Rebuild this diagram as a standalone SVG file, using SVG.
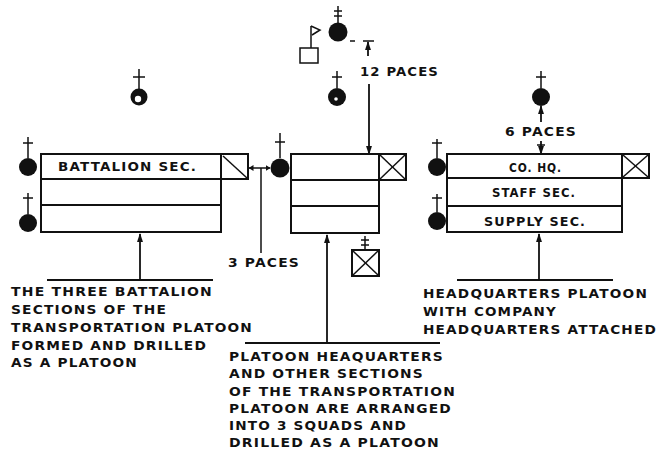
<svg xmlns="http://www.w3.org/2000/svg" width="660" height="456" viewBox="0 0 660 456">
<style>
.bx{fill:none;stroke:#111;stroke-width:2}
.ln{fill:none;stroke:#111;stroke-width:1.8}
.thin{fill:none;stroke:#111;stroke-width:1.5}
.man{fill:#111}
.t{font-family:"DejaVu Sans","Liberation Sans",sans-serif;font-weight:bold;font-size:11.5px;letter-spacing:1px;fill:#111}
</style>
<defs>
<marker id="ah" viewBox="0 0 10 10" refX="9" refY="5" markerWidth="5" markerHeight="6" markerUnits="userSpaceOnUse" orient="auto-start-reverse" preserveAspectRatio="none">
<path d="M0,0 L10,5 L0,10 Z" fill="#111"/>
</marker>
<marker id="ahl" viewBox="0 0 10 10" refX="9" refY="5" markerWidth="9" markerHeight="6" markerUnits="userSpaceOnUse" orient="auto-start-reverse" preserveAspectRatio="none">
<path d="M0,0 L10,5 L0,10 Z" fill="#111"/>
</marker>
</defs>
<rect width="660" height="456" fill="#fff"/>

<!-- left formation -->
<g id="left-platoon">
<rect class="bx" x="41" y="154" width="180" height="78"/>
<line class="bx" x1="41" y1="179" x2="248" y2="179"/>
<line class="bx" x1="41" y1="205" x2="221" y2="205"/>
<rect class="bx" x="221" y="154" width="27" height="25"/>
<line class="thin" x1="223" y1="156" x2="247" y2="178"/>
<text class="t" x="58" y="171" textLength="139" lengthAdjust="spacingAndGlyphs">BATTALION SEC.</text>
<circle class="man" cx="28" cy="167" r="9"/>
<line class="thin" x1="28" y1="137" x2="28" y2="158"/><line class="thin" x1="23" y1="143" x2="33" y2="143"/>
<circle class="man" cx="28" cy="223" r="9"/>
<line class="thin" x1="28" y1="193" x2="28" y2="214"/><line class="thin" x1="23" y1="198" x2="33" y2="198"/>
</g>
<g id="left-leader-figure">
<circle class="man" cx="139" cy="97" r="8.5"/>
<circle cx="138" cy="99" r="3.2" fill="#fff"/>
<line class="thin" x1="139" y1="69" x2="139" y2="89"/><line class="thin" x1="133" y1="77" x2="145" y2="77"/>
</g>

<!-- middle formation -->
<g id="middle-platoon">
<rect class="bx" x="291" y="154" width="88" height="79"/>
<line class="bx" x1="291" y1="180" x2="406" y2="180"/>
<line class="bx" x1="291" y1="206" x2="379" y2="206"/>
<rect class="bx" x="379" y="154" width="27" height="26"/>
<line class="thin" x1="380" y1="155" x2="405" y2="179"/><line class="thin" x1="405" y1="155" x2="380" y2="179"/>
<circle class="man" cx="280" cy="168" r="9.5"/>
<line class="thin" x1="280" y1="133" x2="280" y2="158"/><line class="thin" x1="275" y1="142" x2="285" y2="142"/>
</g>
<g id="middle-guidon">
<rect class="bx" x="352" y="250" width="27" height="26"/>
<line class="thin" x1="353" y1="251" x2="378" y2="275"/><line class="thin" x1="378" y1="251" x2="353" y2="275"/>
<line class="thin" x1="365" y1="236" x2="365" y2="250"/>
<line class="thin" x1="361" y1="240" x2="369" y2="240"/><line class="thin" x1="361" y1="245" x2="369" y2="245"/>
</g>
<g id="middle-leader-figure">
<circle class="man" cx="337" cy="97" r="9"/>
<circle cx="336" cy="99" r="1.8" fill="#fff"/>
<line class="thin" x1="337" y1="71" x2="337" y2="88"/><line class="thin" x1="332" y1="77" x2="342" y2="77"/>
</g>
<g id="commander">
<circle class="man" cx="338" cy="32" r="9.5"/>
<line class="thin" x1="338" y1="6" x2="338" y2="23"/>
<line class="thin" x1="334" y1="11" x2="342" y2="11"/><line class="thin" x1="334" y1="16" x2="342" y2="16"/>
<line class="thin" x1="350" y1="41" x2="355" y2="41"/>
</g>
<g id="flag">
<rect class="thin" x="300" y="48" width="18" height="15"/>
<line class="thin" x1="311" y1="26" x2="311" y2="48"/>
<polyline class="thin" points="311,26 320,30 312,35"/>
</g>

<!-- right formation -->
<g id="right-platoon">
<rect class="bx" x="447" y="154" width="175" height="78"/>
<line class="bx" x1="447" y1="178" x2="649" y2="178"/>
<line class="bx" x1="447" y1="206" x2="622" y2="206"/>
<rect class="bx" x="622" y="154" width="27" height="24"/>
<line class="thin" x1="623" y1="155" x2="648" y2="177"/><line class="thin" x1="648" y1="155" x2="623" y2="177"/>
<text class="t" x="509" y="172" textLength="53" lengthAdjust="spacingAndGlyphs">CO. HQ.</text>
<text class="t" x="492" y="197" textLength="84" lengthAdjust="spacingAndGlyphs">STAFF SEC.</text>
<text class="t" x="484" y="226" textLength="102" lengthAdjust="spacingAndGlyphs">SUPPLY SEC.</text>
<circle class="man" cx="437" cy="167" r="9"/>
<line class="thin" x1="437" y1="139" x2="437" y2="158"/><line class="thin" x1="432" y1="143" x2="442" y2="143"/>
<circle class="man" cx="437" cy="221" r="9"/>
<line class="thin" x1="437" y1="194" x2="437" y2="212"/><line class="thin" x1="432" y1="198" x2="442" y2="198"/>
</g>
<g id="right-leader-figure">
<circle class="man" cx="541" cy="97" r="9"/>
<line class="thin" x1="541" y1="71" x2="541" y2="88"/><line class="thin" x1="536" y1="77" x2="546" y2="77"/>
</g>

<!-- connectors -->
<g id="connectors">
<line class="ln" x1="47" y1="280" x2="213" y2="280"/>
<line class="ln" x1="140" y1="280" x2="140" y2="234" marker-end="url(#ahl)"/>
<line class="ln" x1="245" y1="343" x2="440" y2="343"/>
<line class="ln" x1="327" y1="343" x2="327" y2="235" marker-end="url(#ahl)"/>
<line class="ln" x1="457" y1="280" x2="613" y2="280"/>
<line class="ln" x1="539" y1="280" x2="539" y2="234" marker-end="url(#ahl)"/>
<line class="thin" x1="249" y1="168" x2="270" y2="168" marker-start="url(#ah)" marker-end="url(#ah)"/>
<line class="thin" x1="261" y1="168" x2="261" y2="253"/>
<line class="thin" x1="363" y1="41" x2="374" y2="41"/>
<line class="ln" x1="368" y1="56" x2="368" y2="42" marker-end="url(#ahl)"/>
<line class="ln" x1="369" y1="84" x2="369" y2="154" marker-end="url(#ahl)"/>
<line class="ln" x1="541" y1="122" x2="541" y2="106" marker-end="url(#ahl)"/>
<line class="thin" x1="537" y1="145" x2="545" y2="145"/>
<line class="ln" x1="541" y1="141" x2="541" y2="154" marker-end="url(#ahl)"/>
</g>

<!-- labels -->
<g id="labels">
<text class="t" x="228" y="267" textLength="72" lengthAdjust="spacingAndGlyphs">3 PACES</text>
<text class="t" x="360" y="76" textLength="79" lengthAdjust="spacingAndGlyphs">12 PACES</text>
<text class="t" x="505" y="136" textLength="72" lengthAdjust="spacingAndGlyphs">6 PACES</text>
<text class="t" x="11" y="296" textLength="202" lengthAdjust="spacingAndGlyphs">THE THREE BATTALION</text>
<text class="t" x="11" y="314" textLength="156" lengthAdjust="spacingAndGlyphs">SECTIONS OF THE</text>
<text class="t" x="11" y="332" textLength="242" lengthAdjust="spacingAndGlyphs">TRANSPORTATION PLATOON</text>
<text class="t" x="11" y="350" textLength="196" lengthAdjust="spacingAndGlyphs">FORMED AND DRILLED</text>
<text class="t" x="11" y="367" textLength="127" lengthAdjust="spacingAndGlyphs">AS A PLATOON</text>
<text class="t" x="229" y="361" textLength="215" lengthAdjust="spacingAndGlyphs">PLATOON HEAQUARTERS</text>
<text class="t" x="229" y="378" textLength="195" lengthAdjust="spacingAndGlyphs">AND OTHER SECTIONS</text>
<text class="t" x="229" y="396" textLength="227" lengthAdjust="spacingAndGlyphs">OF THE TRANSPORTATION</text>
<text class="t" x="229" y="413" textLength="223" lengthAdjust="spacingAndGlyphs">PLATOON ARE ARRANGED</text>
<text class="t" x="229" y="430" textLength="178" lengthAdjust="spacingAndGlyphs">INTO 3 SQUADS AND</text>
<text class="t" x="229" y="447" textLength="211" lengthAdjust="spacingAndGlyphs">DRILLED AS A PLATOON</text>
<text class="t" x="423" y="298" textLength="225" lengthAdjust="spacingAndGlyphs">HEADQUARTERS PLATOON</text>
<text class="t" x="423" y="316" textLength="134" lengthAdjust="spacingAndGlyphs">WITH COMPANY</text>
<text class="t" x="423" y="334" textLength="234" lengthAdjust="spacingAndGlyphs">HEADQUARTERS ATTACHED</text>
</g>
</svg>
